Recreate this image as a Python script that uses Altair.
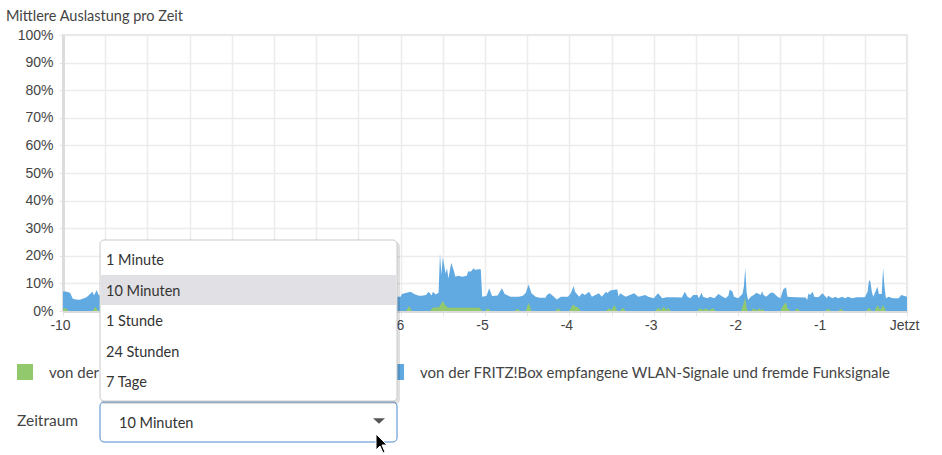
import altair as alt
import pandas as pd

# Mittlere Auslastung der letzten 10 Minuten: Sekunden vor "Jetzt" und Gesamtlast in Prozent
sekunden = [
    -600, -598, -595, -593, -591, -588, -585, -583, -581, -579, -578, -576, -575, -574,
    -570, -564, -558, -552, -546, -540, -534, -528, -522, -516, -510, -504, -498, -492,
    -486, -480, -474, -468, -462, -456, -450, -444, -438, -432, -426, -420, -414, -408,
    -402, -396, -390, -384, -378, -372, -366,
    -362, -360, -359, -357, -353, -350, -347, -345, -342, -340, -338, -337, -335, -333,
    -332, -331, -330, -328, -327, -326, -324, -322, -321, -319, -316, -313, -312, -310,
    -308, -307, -305, -303, -302, -299, -297, -295, -291, -288, -286, -282, -276, -273,
    -271, -269, -267, -264, -261, -257, -256, -254, -251, -249, -246, -241, -239, -237,
    -236, -233, -231, -229, -226, -224, -219, -217, -214, -213, -211, -207, -206, -205,
    -204, -200, -197, -194, -191, -186, -184, -180, -177, -174, -171, -165, -160, -158,
    -156, -154, -152, -149, -148, -146, -145, -142, -140, -137, -134, -131, -129, -127,
    -126, -124, -123, -120, -117, -116, -115, -114, -113, -111, -109, -107, -104, -103,
    -102, -100, -97, -95, -92, -90, -88, -86, -85, -79, -72, -71, -70, -69,
    -67, -66, -63, -60, -59, -57, -56, -53, -51, -49, -46, -44, -42, -39,
    -36, -30, -28, -27, -26, -25, -24, -21, -20, -18, -17, -16, -15, -13,
    -10, -6, -4, 0,
]
gesamt = [
    7.1, 7.1, 6.6, 4.4, 4.2, 4.1, 4.6, 5.1, 6.1, 7.0, 5.6, 7.6, 6.1, 5.6,
    5.2, 6.0, 5.4, 6.4, 5.0, 5.8, 7.2, 5.4, 5.0, 6.2, 5.6, 6.8, 5.2, 5.0,
    6.0, 5.4, 7.0, 5.6, 5.2, 6.4, 5.8, 5.0, 6.6, 5.4, 5.2, 6.0, 7.4, 5.6,
    5.0, 5.8, 6.2, 5.4, 5.2, 6.0, 5.6,
    5.2, 5.2, 6.2, 6.4, 7.0, 6.1, 5.5, 5.5, 5.8, 7.0, 5.6, 7.0, 6.0, 6.6,
    20.9, 13.1, 19.5, 13.6, 15.5, 11.8, 17.5, 14.3, 12.4, 12.8, 12.4, 12.8, 14.3, 14.3,
    15.5, 14.9, 15.1, 15.1, 5.2, 5.4, 8.2, 5.4, 5.6, 8.2, 6.2, 5.2, 5.2, 5.5,
    6.6, 9.6, 6.4, 5.2, 4.8, 4.8, 5.8, 6.4, 5.2, 4.2, 5.2, 5.2, 6.4, 9.1,
    7.0, 5.2, 6.4, 5.8, 7.0, 5.2, 6.4, 5.2, 7.0, 6.4, 7.4, 7.8, 7.8, 5.2,
    6.4, 5.2, 5.8, 6.4, 5.2, 5.8, 5.2, 4.6, 6.4, 4.6, 5.0, 5.0, 4.9, 7.0,
    5.2, 4.6, 5.8, 5.8, 4.6, 6.6, 5.2, 4.6, 5.2, 4.6, 6.2, 5.2, 4.6, 5.5,
    7.8, 7.0, 5.2, 4.6, 6.2, 8.8, 15.5, 6.6, 4.0, 5.2, 5.8, 6.6, 5.8, 7.2,
    5.8, 5.2, 6.6, 6.6, 5.2, 4.6, 7.8, 8.6, 5.2, 5.0, 4.9, 4.0, 6.4, 5.8,
    7.0, 5.2, 5.0, 6.4, 5.8, 4.6, 5.5, 4.6, 5.2, 4.6, 5.2, 4.6, 5.2, 4.6,
    5.0, 5.0, 7.0, 11.2, 10.5, 7.0, 5.2, 8.8, 6.2, 6.2, 15.5, 8.8, 4.6, 5.2,
    4.6, 4.6, 5.8, 5.2,
]

# Anteil der von der FRITZ!Box selbst gesendeten Signale (Sekunden, Prozent)
eigen_sekunden = [
    -600, -598, -596, -579, -577, -575, -356, -354, -352,
    -339, -337, -333, -332, -330, -328, -326, -304, -302,
    -300, -298, -296, -279, -277, -275, -271, -269, -267,
    -250, -248, -246, -240, -238, -237, -236, -234, -232,
    -214, -212, -210, -208, -206, -204, -202, -200,
    -179, -177, -175, -173, -171, -170, -168,
    -149, -147, -145, -143, -141, -138, -136,
    -118, -117, -116, -115, -114, -113,
    -111, -109, -107, -105, -104, -103, -101,
    -90, -88, -86, -85, -83, -80, -78, -76,
    -58, -56, -54, -49, -47, -45, -29, -27, -25,
    -23, -21, -19, -17, -15,
]
eigen = [
    0.8, 1.0, 0.0, 0.0, 1.5, 0.0, 0.0, 1.8, 0.0,
    0.0, 1.3, 1.3, 2.0, 3.6, 1.8, 1.2, 1.2, 0.0,
    0.0, 1.0, 0.0, 0.0, 0.8, 0.0, 0.0, 3.0, 0.0,
    0.0, 1.0, 0.0, 0.0, 1.8, 2.4, 1.6, 1.4, 0.0,
    0.0, 1.0, 0.4, 2.2, 0.0, 0.0, 1.2, 0.0,
    0.0, 1.2, 0.3, 1.5, 0.3, 1.2, 0.0,
    0.0, 1.0, 0.3, 1.0, 0.2, 1.0, 0.0,
    0.0, 1.4, 3.0, 4.8, 1.0, 0.0,
    0.0, 1.0, 0.2, 1.0, 0.2, 0.8, 0.0,
    0.0, 2.0, 3.2, 1.0, 0.0, 0.0, 1.0, 0.0,
    0.0, 0.8, 0.0, 0.0, 0.8, 0.0, 0.0, 1.2, 0.0,
    0.0, 2.2, 0.3, 2.2, 0.0,
]

x_ticks = [-10, -9.5, -9, -8.5, -8, -7.5, -7, -6.5, -6, -5.5, -5,
           -4.5, -4, -3.5, -3, -2.5, -2, -1.5, -1, -0.5, 0]
y_ticks = [0, 10, 20, 30, 40, 50, 60, 70, 80, 90, 100]

titel = "Mittlere Auslastung pro Zeit"
legende = ["von der FRITZ!Box gesendete WLAN-Signale",
           "von der FRITZ!Box empfangene WLAN-Signale und fremde Funksignale"]
zeitraeume = ["1 Minute", "10 Minuten", "1 Stunde", "24 Stunden", "7 Tage"]
auswahl = "10 Minuten"
feld_titel = "Zeitraum"

BLAU = "#61a9e1"
GRUEN = "#93c96d"
TEXT = "#444444"
SCHRIFT = "Lato"

df_gesamt = pd.DataFrame({"minute": [s / 60 for s in sekunden], "prozent": gesamt})
df_eigen = pd.DataFrame({"minute": [s / 60 for s in eigen_sekunden], "prozent": eigen})

x_enc = alt.X(
    "minute:Q",
    scale=alt.Scale(domain=[-10, 0], nice=False, zero=False),
    axis=alt.Axis(
        values=x_ticks,
        labelExpr="datum.value == 0 ? 'Jetzt' : (floor(datum.value) == datum.value ? '' + datum.value : '')",
        labelPadding=2,
        labelOffset=-3,
        labelFlush=False,
        labelOverlap=False,
        tickSize=5,
        title=None,
    ),
)
y_enc = alt.Y(
    "prozent:Q",
    scale=alt.Scale(domain=[0, 100], nice=False),
    axis=alt.Axis(
        values=y_ticks,
        labelExpr="datum.value + '%'",
        labelPadding=6,
        tickSize=4,
        title=None,
    ),
)

flaeche_blau = alt.Chart(df_gesamt).mark_area(color=BLAU, interpolate="linear").encode(x=x_enc, y=y_enc)
flaeche_gruen = alt.Chart(df_eigen).mark_area(color=GRUEN, interpolate="linear").encode(x=x_enc, y=y_enc)

eins = pd.DataFrame({"n": [0]})


def rechteck(x1, x2, y1, y2, **stil):
    return alt.Chart(eins).mark_rect(**stil).encode(
        x=alt.value(x1), x2=alt.value(x2), y=alt.value(y1), y2=alt.value(y2)
    )


def beschriftung(inhalt, x, y, groesse=15, farbe=TEXT):
    return alt.Chart(eins).mark_text(
        text=inhalt, align="left", baseline="alphabetic",
        font=SCHRIFT, fontSize=groesse, color=farbe,
    ).encode(x=alt.value(x), y=alt.value(y))


ebenen = [flaeche_blau, flaeche_gruen]

# Titel und Legende
ebenen.append(beschriftung(titel, -57, -14, groesse=14.5))
ebenen.append(rechteck(-46, -30, 329, 345, color=GRUEN))
ebenen.append(beschriftung(legende[0], -14, 343, groesse=15))
ebenen.append(rechteck(325, 341, 329, 345, color=BLAU))
ebenen.append(beschriftung(legende[1], 357, 343, groesse=15))

# Auswahlfeld "Zeitraum"
ebenen.append(beschriftung(feld_titel, -46, 391, groesse=15.5))
ebenen.append(rechteck(37, 334, 367, 407, fill="white", stroke="#4a88cc",
                       strokeWidth=1, cornerRadius=4))
ebenen.append(beschriftung(auswahl, 56, 393, groesse=14.5, farbe="#333333"))
ebenen.append(
    alt.Chart(eins).mark_point(
        shape="M-1,-0.45 L1,-0.45 L0,0.45 Z", size=144, filled=True,
        color="#555555", opacity=1,
    ).encode(x=alt.value(316), y=alt.value(386))
)

# Geöffnete Liste der Zeiträume
ebenen.append(rechteck(38, 337, 207, 369, color="#000000", opacity=0.12, cornerRadius=4))
ebenen.append(rechteck(37, 334, 205, 366, fill="white", stroke="#c9c9c9",
                       strokeWidth=1, cornerRadius=4))
ebenen.append(rechteck(38, 333, 240, 270, color="#e1e0e4"))
for i, eintrag in enumerate(zeitraeume):
    ebenen.append(beschriftung(eintrag, 43, 230 + i * 30.5, groesse=14.5, farbe="#333333"))

# Mauszeiger
ebenen.append(
    alt.Chart(eins).mark_point(
        shape="M-0.6,-1 L-0.6,0.6 L-0.2,0.2 L0.1,0.9 L0.3,0.8 L0,0.1 L0.5,0.1 Z",
        size=400, filled=True, fill="black", stroke="white", strokeWidth=1, opacity=1,
    ).encode(x=alt.value(319), y=alt.value(409))
)

chart = (
    alt.layer(*ebenen)
    .properties(
        width=844,
        height=276,
        padding={"left": 63, "top": 35, "right": 35, "bottom": 144},
        autosize=alt.AutoSizeParams(type="none"),
        background="white",
    )
    .configure_view(stroke="#e4e4e4", strokeWidth=2)
    .configure_axis(
        labelFont="Liberation Sans",
        labelFontSize=14,
        labelColor=TEXT,
        domainColor="#dcdcdc",
        domainWidth=3,
        gridColor="#ececec",
        gridWidth=1.5,
        tickColor="#e6e6e6",
    )
)

chart.save("out.html", embed_options={"renderer": "svg", "actions": False})
